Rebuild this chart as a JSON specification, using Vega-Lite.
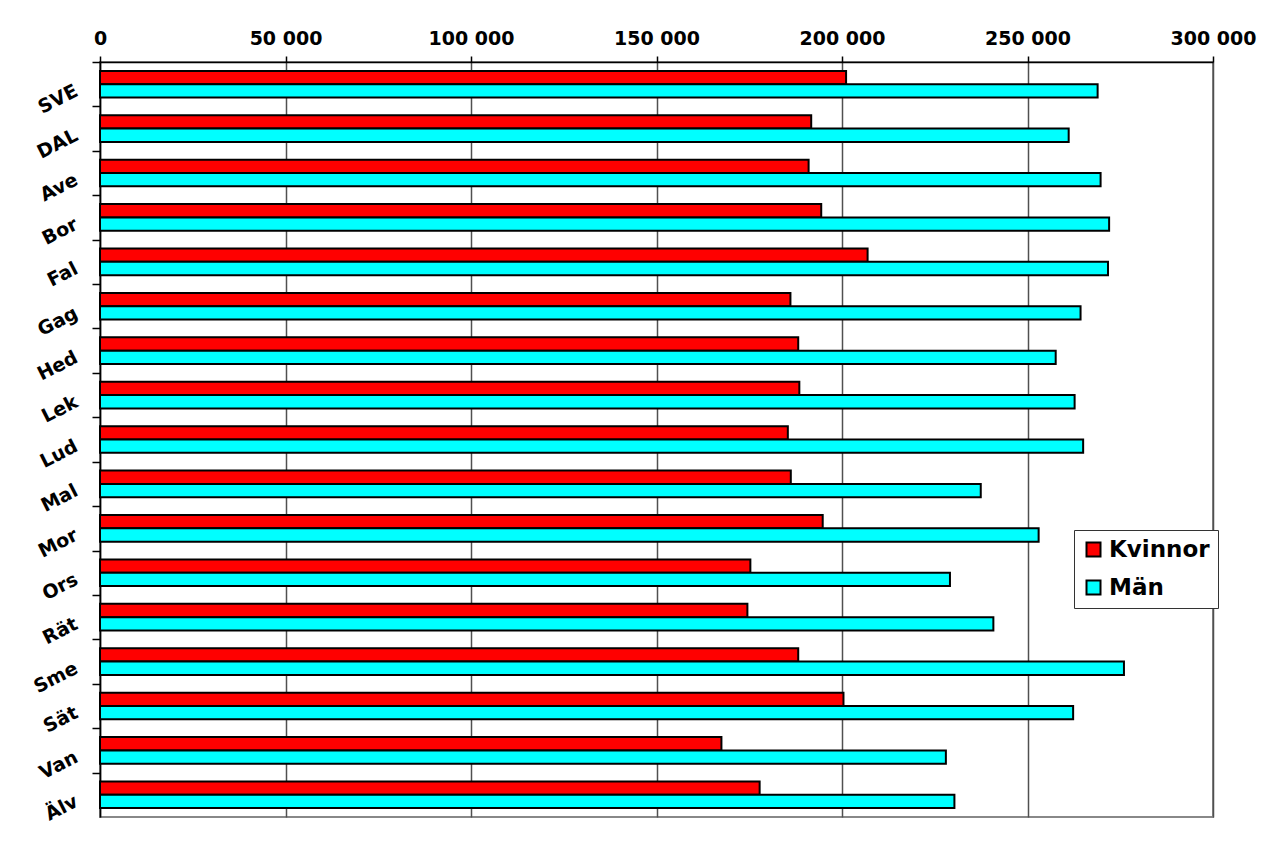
{
  "$schema": "https://vega.github.io/schema/vega-lite/v6.json",
  "width": 1113,
  "height": 755,
  "autosize": {"type": "none"},
  "padding": {"left": 100, "top": 62, "right": 54, "bottom": 51},
  "background": "white",
  "config": {
    "font": "DejaVu Sans",
    "view": {"stroke": "#888888", "strokeWidth": 2}
  },
  "data": {
    "values": [
      {"kommun": "SVE", "kon": "Kvinnor", "inkomst": 201100},
      {"kommun": "SVE", "kon": "Män", "inkomst": 268900},
      {"kommun": "DAL", "kon": "Kvinnor", "inkomst": 191700},
      {"kommun": "DAL", "kon": "Män", "inkomst": 261100},
      {"kommun": "Ave", "kon": "Kvinnor", "inkomst": 191000},
      {"kommun": "Ave", "kon": "Män", "inkomst": 269700},
      {"kommun": "Bor", "kon": "Kvinnor", "inkomst": 194400},
      {"kommun": "Bor", "kon": "Män", "inkomst": 272000},
      {"kommun": "Fal", "kon": "Kvinnor", "inkomst": 206900},
      {"kommun": "Fal", "kon": "Män", "inkomst": 271700},
      {"kommun": "Gag", "kon": "Kvinnor", "inkomst": 186100},
      {"kommun": "Gag", "kon": "Män", "inkomst": 264300},
      {"kommun": "Hed", "kon": "Kvinnor", "inkomst": 188200},
      {"kommun": "Hed", "kon": "Män", "inkomst": 257600},
      {"kommun": "Lek", "kon": "Kvinnor", "inkomst": 188500},
      {"kommun": "Lek", "kon": "Män", "inkomst": 262700},
      {"kommun": "Lud", "kon": "Kvinnor", "inkomst": 185400},
      {"kommun": "Lud", "kon": "Män", "inkomst": 265000},
      {"kommun": "Mal", "kon": "Kvinnor", "inkomst": 186200},
      {"kommun": "Mal", "kon": "Män", "inkomst": 237400},
      {"kommun": "Mor", "kon": "Kvinnor", "inkomst": 194800},
      {"kommun": "Mor", "kon": "Män", "inkomst": 253000},
      {"kommun": "Ors", "kon": "Kvinnor", "inkomst": 175300},
      {"kommun": "Ors", "kon": "Män", "inkomst": 229100},
      {"kommun": "Rät", "kon": "Kvinnor", "inkomst": 174500},
      {"kommun": "Rät", "kon": "Män", "inkomst": 240800},
      {"kommun": "Sme", "kon": "Kvinnor", "inkomst": 188200},
      {"kommun": "Sme", "kon": "Män", "inkomst": 276000},
      {"kommun": "Sät", "kon": "Kvinnor", "inkomst": 200400},
      {"kommun": "Sät", "kon": "Män", "inkomst": 262300},
      {"kommun": "Van", "kon": "Kvinnor", "inkomst": 167500},
      {"kommun": "Van", "kon": "Män", "inkomst": 228000},
      {"kommun": "Älv", "kon": "Kvinnor", "inkomst": 177800},
      {"kommun": "Älv", "kon": "Män", "inkomst": 230300}
    ]
  },
  "mark": {"type": "bar", "stroke": "black", "strokeWidth": 2},
  "encoding": {
    "y": {
      "field": "kommun",
      "type": "nominal",
      "sort": null,
      "scale": {"paddingInner": 0.4, "paddingOuter": 0.2},
      "axis": {
        "title": null,
        "orient": "left",
        "domainColor": "black",
        "domainWidth": 1.5,
        "tickColor": "black",
        "tickWidth": 1.5,
        "tickSize": 8,
        "bandPosition": 0,
        "tickOffset": -8.9,
        "labelOffset": 14,
        "labelAngle": -27,
        "labelAlign": "right",
        "labelBaseline": "middle",
        "labelFontSize": 19,
        "labelFontWeight": "bold",
        "labelColor": "black",
        "labelPadding": 16
      }
    },
    "yOffset": {
      "field": "kon",
      "type": "nominal",
      "sort": ["Kvinnor", "Män"],
      "scale": {"paddingInner": 0, "paddingOuter": 0}
    },
    "x": {
      "field": "inkomst",
      "type": "quantitative",
      "scale": {"domain": [0, 300000], "nice": false},
      "axis": {
        "title": null,
        "orient": "top",
        "values": [0, 50000, 100000, 150000, 200000, 250000, 300000],
        "labelExpr": "replace(format(datum.value, ','), ',', ' ')",
        "grid": true,
        "gridColor": "#505050",
        "gridWidth": 1.5,
        "domainColor": "black",
        "domainWidth": 1.5,
        "tickColor": "black",
        "tickWidth": 1.5,
        "tickSize": 6,
        "labelFontSize": 19,
        "labelFontWeight": "bold",
        "labelColor": "black",
        "labelBaseline": "alphabetic",
        "labelPadding": 12,
        "labelFlush": false
      }
    },
    "color": {
      "field": "kon",
      "type": "nominal",
      "scale": {"domain": ["Kvinnor", "Män"], "range": ["#ff0000", "#00ffff"]},
      "legend": {
        "title": null,
        "orient": "none",
        "legendX": 974,
        "legendY": 468,
        "strokeColor": "#333333",
        "fillColor": "white",
        "padding": 8,
        "symbolType": "square",
        "symbolSize": 196,
        "symbolStrokeColor": "black",
        "symbolStrokeWidth": 2,
        "symbolOpacity": 1,
        "labelFontSize": 23,
        "labelFontWeight": "bold",
        "labelColor": "black",
        "labelOffset": 4,
        "rowPadding": 14
      }
    }
  }
}
